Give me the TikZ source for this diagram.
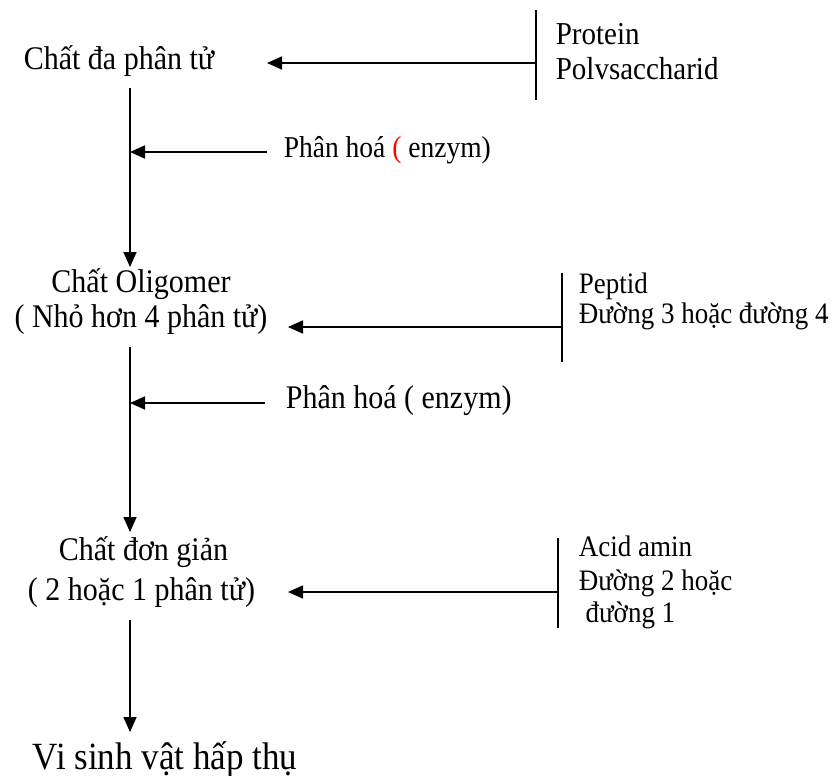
\documentclass[tikz,border=0pt]{standalone}
\usepackage{fontspec}
\setmainfont{Liberation Serif}
\usetikzlibrary{arrows.meta}
\newcommand{\tallt}[1]{\scalebox{1}[1.1]{#1}}
\begin{document}
\begin{tikzpicture}[x=1pt, y=-1pt, ->, >={Triangle[length=15pt,width=13pt]}, line width=1.7pt]
	\tikzstyle{every node}=[inner sep=0pt, text=black]
	\tikzstyle{big}=[anchor=base, font=\fontsize{30}{36}\selectfont]
	\tikzstyle{side}=[anchor=base west, font=\fontsize{27}{32}\selectfont]
	\useasboundingbox (0,0) rectangle (835,776);
	\node[big]    (A)  at (119,70)    {\tallt{Chất đa phân tử}};
	\node[big]    (B1) at (141,292)   {\tallt{Chất Oligomer}};
	\node[big]    (B2) at (141,327)   {\tallt{( Nhỏ hơn 4 phân tử)}};
	\node[big]    (C1) at (143.5,560) {\tallt{Chất đơn giản}};
	\node[big]    (C2) at (141.5,600) {\tallt{( 2 hoặc 1 phân tử)}};
	\node[big, font=\fontsize{35}{40}\selectfont] (D) at (165,769) {\tallt{Vi sinh vật hấp thụ}};
	\node[side, font=\fontsize{29}{34}\selectfont] (a1) at (555,45) {\tallt{Protein}};
	\node[side, font=\fontsize{29}{34}\selectfont] (a2) at (555,80) {\tallt{Polvsaccharid}};
	\node[side]   (b1) at (578,293)   {\tallt{Peptid}};
	\node[side]   (b2) at (578,323)   {\tallt{Đường 3 hoặc đường 4}};
	\node[side]   (c1) at (578,556)   {\tallt{Acid amin}};
	\node[side]   (c2) at (578,590)   {\tallt{Đường 2 hoặc}};
	\node[side]   (c3) at (578,622)   {\tallt{\ đường 1}};
	\node[side, font=\fontsize{27.5}{32}\selectfont] (p1) at (283,157) {\tallt{Phân hoá \textcolor{red}{(} enzym)}};
	\node[side, font=\fontsize{30}{36}\selectfont] (p2) at (285,408) {\tallt{Phân hoá ( enzym)}};
	\coordinate (S)  at (130,0);
	\coordinate (J1) at (536,63);
	\coordinate (J2) at (562,327);
	\coordinate (J3) at (558,592);
	\coordinate (T1) at (267,63);
	\coordinate (T2) at (288,327);
	\coordinate (T3) at (288,592);
	\coordinate (K1) at (267,152);
	\coordinate (K2) at (265,403);
	\draw ([yshift=-18pt]A.base -| S) -- ([yshift=25pt]B1.base -| S);
	\draw ([yshift=-20pt]B2.base -| S) -- ([yshift=28pt]C1.base -| S);
	\draw ([yshift=-20pt]C2.base -| S) -- ([yshift=37pt]D.base -| S);
	\draw[-] ([yshift=53pt]J1) -- ([yshift=-37pt]J1);
	\draw[-] ([yshift=54pt]J2) -- ([yshift=-35pt]J2);
	\draw[-] ([yshift=54pt]J3) -- ([yshift=-36pt]J3);
	\draw (J1) -- (T1);
	\draw (J2) -- (T2);
	\draw (J3) -- (T3);
	\draw (K1) -- (K1 -| S);
	\draw (K2) -- (K2 -| S);
\end{tikzpicture}
\end{document}
